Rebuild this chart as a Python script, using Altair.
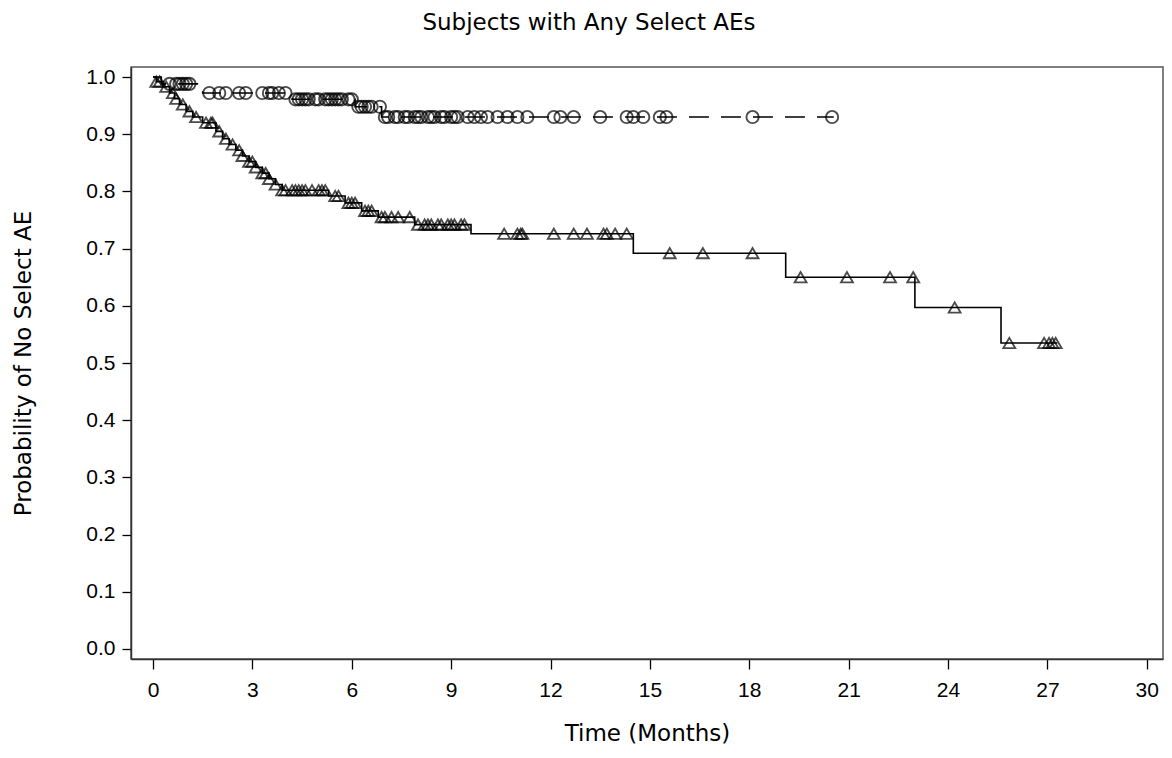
import altair as alt
import pandas as pd

# Group A (circles, dashed line) – KM step curve
circ_step_t = [0, 0.25, 1.5, 4.2, 6.1, 6.9, 20.55]
circ_step_s = [1.0, 0.988, 0.972, 0.961, 0.948, 0.930, 0.930]
circ_censor_t = [0.5, 0.7, 0.8, 0.9, 1.0, 1.1,
                 1.7, 2.0, 2.2, 2.6, 2.8, 3.3, 3.5, 3.6, 3.8, 4.0,
                 4.3, 4.4, 4.5, 4.6, 4.7, 4.9, 5.0, 5.2, 5.3, 5.4, 5.5, 5.6, 5.7, 5.9, 6.0,
                 6.2, 6.3, 6.4, 6.5, 6.6, 6.85,
                 7.0, 7.1, 7.3, 7.4, 7.6, 7.7, 7.9, 8.0, 8.1, 8.3, 8.4, 8.5, 8.7, 8.8,
                 9.0, 9.1, 9.2, 9.5, 9.7, 9.9, 10.1, 10.4, 10.7, 11.0, 11.3,
                 12.1, 12.3, 12.7, 13.5, 14.3, 14.5, 14.8, 15.3, 15.5, 18.1, 20.5]

# Group B (triangles, solid line) – KM step curve
tri_step_t = [0, 0.1, 0.3, 0.5, 0.65, 0.8, 1.0, 1.2, 1.5, 1.9, 2.1, 2.3, 2.5, 2.7, 2.9,
              3.1, 3.3, 3.5, 3.7, 3.9, 5.3, 5.8, 6.3, 6.8, 7.9, 9.6, 14.5, 19.1, 23.0, 25.6, 27.3]
tri_step_s = [1.0, 0.992, 0.983, 0.972, 0.962, 0.952, 0.94, 0.93, 0.92, 0.905, 0.892, 0.882,
              0.872, 0.862, 0.852, 0.842, 0.832, 0.822, 0.812, 0.802, 0.792, 0.78, 0.766,
              0.755, 0.742, 0.726, 0.692, 0.650, 0.597, 0.535, 0.535]
tri_censor_t = [0.1, 0.2, 0.4, 0.6, 0.7, 0.9, 1.1, 1.3, 1.6, 1.75, 1.8, 2.0, 2.2, 2.4, 2.6,
                2.7, 2.9, 3.0, 3.1, 3.3, 3.4, 3.5, 3.7, 3.9, 4.0, 4.2, 4.3, 4.4, 4.5, 4.6,
                4.8, 5.0, 5.1, 5.2, 5.5, 5.6, 5.9, 6.0, 6.1, 6.4, 6.5, 6.6, 6.9, 7.0, 7.2,
                7.4, 7.75, 8.0, 8.2, 8.3, 8.4, 8.6, 8.7, 8.9, 9.0, 9.1, 9.3, 9.4,
                10.6, 11.0, 11.1, 11.15, 12.1, 12.7, 13.1, 13.6, 13.7, 13.95, 14.3,
                15.6, 16.6, 18.1, 19.55, 20.95, 22.25, 22.95, 24.2,
                25.85, 26.9, 27.05, 27.15, 27.25]

x_ticks = [0, 3, 6, 9, 12, 15, 18, 21, 24, 27, 30]
y_ticks = [0.0, 0.1, 0.2, 0.3, 0.4, 0.5, 0.6, 0.7, 0.8, 0.9, 1.0]


def level(step_t, step_s, t):
    s = step_s[0]
    for tt, ss in zip(step_t, step_s):
        if tt <= t:
            s = ss
    return s


circ_line = pd.DataFrame({"t": circ_step_t, "s": circ_step_s})
tri_line = pd.DataFrame({"t": tri_step_t, "s": tri_step_s})
circ_pts = pd.DataFrame({"t": circ_censor_t,
                         "s": [level(circ_step_t, circ_step_s, t) for t in circ_censor_t]})
tri_pts = pd.DataFrame({"t": tri_censor_t,
                        "s": [level(tri_step_t, tri_step_s, t) for t in tri_censor_t]})

LABEL_FONT = "Liberation Sans Narrow, Liberation Sans, sans-serif"
TITLE_FONT = "DejaVu Sans"

x = alt.X("t:Q", scale=alt.Scale(domain=[-0.664, 30.49], nice=False, zero=False),
          axis=alt.Axis(values=x_ticks, title="Time (Months)", format="d", grid=False,
                        tickSize=10, labelPadding=10, titlePadding=22))
y = alt.Y("s:Q", scale=alt.Scale(domain=[-0.0175, 1.0175], nice=False, zero=False),
          axis=alt.Axis(values=y_ticks, title="Probability of No Select AE", format=".1f",
                        grid=False, tickSize=9, labelPadding=7, titlePadding=50))

l1 = alt.Chart(circ_line).mark_line(interpolate="step-after", color="black",
                                    strokeWidth=1.6, strokeDash=[20, 12]).encode(x=x, y=y)
l2 = alt.Chart(tri_line).mark_line(interpolate="step-after", color="black",
                                   strokeWidth=1.6).encode(x=x, y=y)
p1 = alt.Chart(circ_pts).mark_point(shape="circle", filled=False, color="black",
                                    size=150, strokeWidth=1.9).encode(x=x, y=y)
p2 = alt.Chart(tri_pts).mark_point(shape="triangle-up", filled=False, color="black",
                                   size=140, strokeWidth=1.9).encode(x=x, y=y)

chart = alt.layer(l1, l2, p1, p2).properties(
    width=1032, height=592,
    title=alt.TitleParams("Subjects with Any Select AEs", fontSize=23, font=TITLE_FONT,
                          fontWeight="normal", color="black", dx=-58, offset=31),
    autosize=alt.AutoSizeParams(type="none"),
    padding={"left": 123, "top": 59, "right": 1, "bottom": 89},
).configure_axis(
    labelFont=LABEL_FONT, titleFont=TITLE_FONT, labelFontSize=21, titleFontSize=23,
    labelColor="black", titleColor="black", titleFontWeight="normal",
    domainColor="#333", tickColor="black", domainWidth=1.5, tickWidth=1.3,
).configure_view(stroke="#555", strokeWidth=1.5)

chart.save("out.html", embed_options={"renderer": "svg", "actions": False})
